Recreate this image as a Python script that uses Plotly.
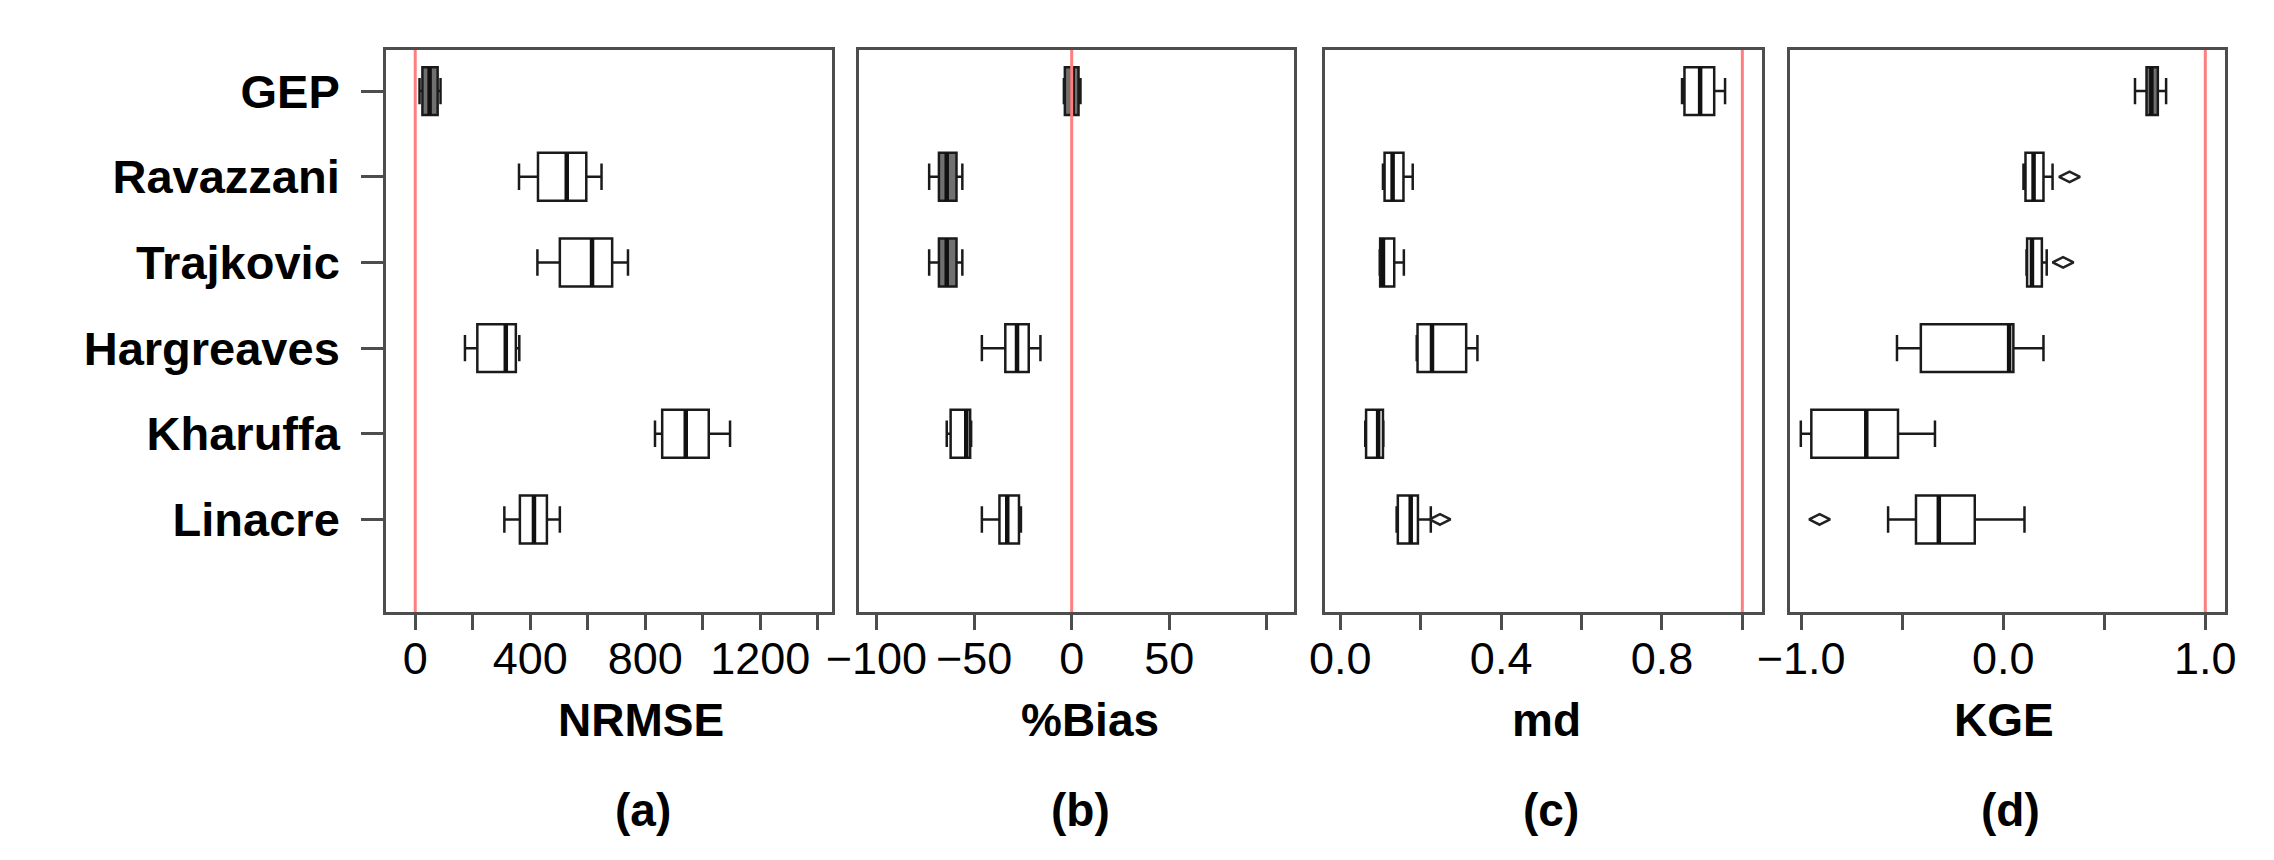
import plotly.graph_objects as go
from plotly.subplots import make_subplots

W, H = 2274, 860

# metodos (de arriba hacia abajo)
metodos = ["GEP", "Ravazzani", "Trajkovic", "Hargreaves", "Kharuffa", "Linacre"]

# NRMSE
nrmse_lo = [15, 361, 425, 173, 834, 310]
nrmse_q1 = [25, 427, 503, 216, 859, 364]
nrmse_med = [50, 527, 615, 315, 941, 413]
nrmse_q3 = [78, 595, 685, 350, 1021, 458]
nrmse_hi = [88, 648, 740, 362, 1095, 503]
nrmse_out_x, nrmse_out_m = [], []

# %Bias
bias_lo = [-4, -73, -73, -46, -64, -46]
bias_q1 = [-3.5, -68, -68, -34, -62, -37]
bias_med = [0.5, -64, -64, -28, -54, -33]
bias_q3 = [3.5, -59, -59, -22, -52, -27]
bias_hi = [4.5, -56, -56, -16, -51.5, -26]
bias_out_x, bias_out_m = [], []

# md
md_lo = [0.85, 0.106, 0.098, 0.19, 0.062, 0.14]
md_q1 = [0.856, 0.11, 0.099, 0.192, 0.064, 0.143]
md_med = [0.895, 0.13, 0.106, 0.228, 0.094, 0.175]
md_q3 = [0.93, 0.157, 0.134, 0.313, 0.106, 0.193]
md_hi = [0.957, 0.18, 0.158, 0.341, 0.107, 0.225]
md_out_x, md_out_m = [0.248], ["Linacre"]

# KGE
kge_lo = [0.652, 0.10, 0.115, -0.526, -1.002, -0.57]
kge_q1 = [0.709, 0.11, 0.118, -0.408, -0.95, -0.432]
kge_med = [0.733, 0.15, 0.142, 0.029, -0.678, -0.319]
kge_q3 = [0.765, 0.199, 0.191, 0.05, -0.521, -0.141]
kge_hi = [0.806, 0.244, 0.215, 0.199, -0.338, 0.105]
kge_out_x, kge_out_m = [0.328, 0.296, -0.909], ["Ravazzani", "Trajkovic", "Linacre"]

# ejes
nrmse_ticks = [0, 200, 400, 600, 800, 1000, 1200, 1400]
nrmse_labels = ["0", "", "400", "", "800", "", "1200", ""]
bias_ticks = [-100, -50, 0, 50, 100]
bias_labels = ["\u2212100", "\u221250", "0", "50", ""]
md_ticks = [0, 0.2, 0.4, 0.6, 0.8, 1.0]
md_labels = ["0.0", "", "0.4", "", "0.8", ""]
kge_ticks = [-1.0, -0.5, 0.0, 0.5, 1.0]
kge_labels = ["\u22121.0", "", "0.0", "", "1.0"]

titulos = ["NRMSE", "%Bias", "md", "KGE"]
letras = ["(a)", "(b)", "(c)", "(d)"]
ref_vals = [0, 0, 1, 1]

paneles = [
    (nrmse_lo, nrmse_q1, nrmse_med, nrmse_q3, nrmse_hi, nrmse_out_x, nrmse_out_m, nrmse_ticks, nrmse_labels, [-101, 1451]),
    (bias_lo, bias_q1, bias_med, bias_q3, bias_hi, bias_out_x, bias_out_m, bias_ticks, bias_labels, [-109, 114]),
    (md_lo, md_q1, md_med, md_q3, md_hi, md_out_x, md_out_m, md_ticks, md_labels, [-0.039, 1.049]),
    (kge_lo, kge_q1, kge_med, kge_q3, kge_hi, kge_out_x, kge_out_m, kge_ticks, kge_labels, [-1.058, 1.097]),
]

# posiciones en pixeles medidas de la figura
px_x = [(352, 807), (834, 1278), (1309, 1755), (1783, 2227)]
titulo_x = [612, 1070, 1535, 2002]
letra_x = [614, 1060, 1540, 2008]
top_px, bot_px = 42, 604

# cajas que en el original se ven rellenas de gris oscuro
oscuras = {(0, "GEP"), (1, "GEP"), (1, "Ravazzani"), (1, "Trajkovic"), (3, "GEP")}

pos = {m: len(metodos) - i for i, m in enumerate(metodos)}
ys = [pos[m] for m in metodos]
BW = 0.56
FONT = "Liberation Sans, Arial, sans-serif"

fig = make_subplots(rows=1, cols=4)

for k, (lo, q1, med, q3, hi, ox, om, tv, tt, rng) in enumerate(paneles):
    c = k + 1
    for i, m in enumerate(metodos):
        fill = "#707070" if (k, m) in oscuras else "white"
        fig.add_trace(go.Box(
            orientation="h", y=[pos[m]], q1=[q1[i]], median=[med[i]], q3=[q3[i]],
            lowerfence=[lo[i]], upperfence=[hi[i]], width=BW, whiskerwidth=0.55,
            fillcolor=fill, line=dict(color="#1a1a1a", width=2.5),
            boxpoints=False, showlegend=False, hoverinfo="skip"
        ), row=1, col=c)
    # mediana mas gruesa (estilo R)
    mx, my = [], []
    for v, y in zip(med, ys):
        mx += [v, v, None]
        my += [y - BW / 2, y + BW / 2, None]
    fig.add_trace(go.Scatter(x=mx, y=my, mode="lines", line=dict(color="#111", width=4.5),
                             showlegend=False, hoverinfo="skip"), row=1, col=c)
    if ox:
        fig.add_trace(go.Scatter(x=ox, y=[pos[m] for m in om], mode="markers",
                                 marker=dict(symbol="diamond-wide-open", size=15, color="#222",
                                             line=dict(width=2.5, color="#222")),
                                 showlegend=False, hoverinfo="skip"), row=1, col=c)
    fig.add_vline(x=ref_vals[k], line=dict(color="#ff7f7f", width=3), row=1, col=c)

    x0, x1 = px_x[k]
    fig.update_xaxes(domain=[x0 / W, x1 / W], range=rng, tickvals=tv, ticktext=tt,
                     ticks="outside", ticklen=15, tickwidth=3, tickcolor="#4d4d4d",
                     ticklabelstandoff=-10,
                     showline=True, mirror=True, linecolor="#4d4d4d", linewidth=3,
                     showgrid=False, zeroline=False,
                     tickfont=dict(family=FONT, size=45, color="black"),
                     row=1, col=c)
    fig.update_yaxes(domain=[1 - bot_px / H, 1 - top_px / H], range=[-0.08, 6.48],
                     showline=True, mirror=True, linecolor="#4d4d4d", linewidth=3,
                     showgrid=False, zeroline=False, row=1, col=c,
                     tickvals=ys if c == 1 else [], ticktext=metodos if c == 1 else [],
                     ticks="outside" if c == 1 else "", ticklen=22, tickwidth=3,
                     tickcolor="#4d4d4d", ticklabelstandoff=12,
                     tickfont=dict(family=FONT, size=47, color="black", weight="bold"))

    fig.add_annotation(x=titulo_x[k] / W, y=1 - 712 / H, xref="paper", yref="paper",
                       text=titulos[k], showarrow=False, xanchor="center", yanchor="middle",
                       font=dict(family=FONT, size=46, color="black", weight="bold"))
    fig.add_annotation(x=letra_x[k] / W, y=1 - 802 / H, xref="paper", yref="paper",
                       text=letras[k], showarrow=False, xanchor="center", yanchor="middle",
                       font=dict(family=FONT, size=46, color="black", weight="bold"))

fig.update_layout(width=W, height=H, margin=dict(l=0, r=0, t=0, b=0), boxmode="overlay",
                  plot_bgcolor="white", paper_bgcolor="white")

fig.write_html("out.html")
